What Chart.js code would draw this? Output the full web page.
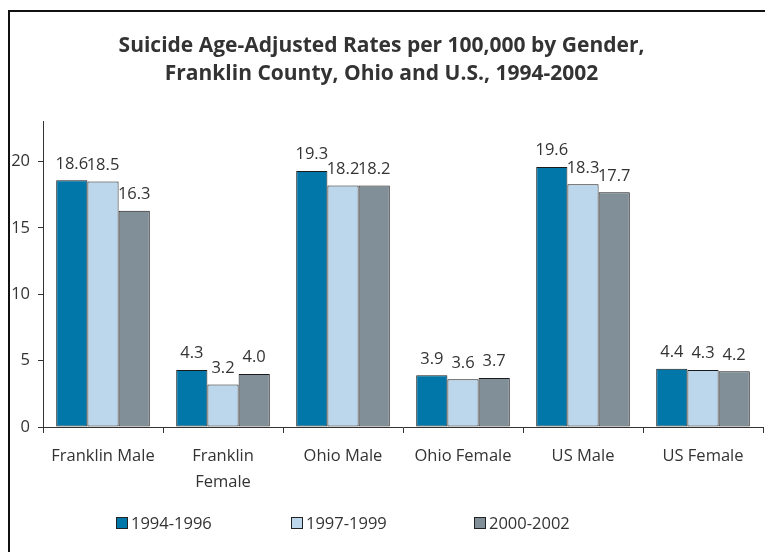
<!DOCTYPE html>
<html>
<head>
<meta charset="utf-8">
<script src="https://cdn.jsdelivr.net/npm/chart.js@4"></script>
<style>
  html, body { margin: 0; padding: 0; background: #fff; overflow: hidden; }
  #frame { position: absolute; left: 8px; top: 10px; width: 800px; height: 600px; border: 2px solid #111; }
  #wrap { position: absolute; left: 0; top: 0; width: 765px; height: 552px; }
  #legend { position: absolute; top: 511px; left: 0; width: 765px; height: 22px; font: 16.5px "Open Sans", sans-serif; color: #333; }
  .item { position: absolute; display: flex; align-items: center; }
  .box { width: 12px; height: 12px; border: 1px solid #222; margin-right: 3px; box-sizing: border-box; }
</style>
</head>
<body>
<div id="frame"></div>
<div id="wrap"><canvas id="chart" width="765" height="552"></canvas></div>
<div id="legend"></div>
<script>
// categories and series
const categories = ['Franklin Male', ['Franklin', 'Female'], 'Ohio Male', 'Ohio Female', 'US Male', 'US Female'];
const seriesNames = ['1994-1996', '1997-1999', '2000-2002'];
const rates9496 = [18.6, 4.3, 19.3, 3.9, 19.6, 4.4];
const rates9799 = [18.5, 3.2, 18.2, 3.6, 18.3, 4.3];
const rates0002 = [16.3, 4.0, 18.2, 3.7, 17.7, 4.2];
const yTicks = [0, 5, 10, 15, 20];
const colors = ['#0077a8', '#bcd7ec', '#818f98'];

const FONT = '"Open Sans", sans-serif';
const TEXT = '#333';

// value labels above bars
const valueLabels = {
    id: 'valueLabels',
    afterDatasetsDraw(chart) {
        const c = chart.ctx;
        c.save();
        c.font = '16.5px ' + FONT;
        c.fillStyle = TEXT;
        c.textAlign = 'center';
        c.textBaseline = 'bottom';
        chart.data.datasets.forEach((ds, i) => {
            chart.getDatasetMeta(i).data.forEach((bar, j) => {
                c.fillText(ds.data[j].toFixed(1), bar.x, bar.y - 8);
            });
        });
        c.restore();
    }
};

const allSeries = [rates9496, rates9799, rates0002];

new Chart(document.getElementById('chart'), {
    type: 'bar',
    data: {
        labels: categories,
        datasets: allSeries.map((d, i) => ({
            label: seriesNames[i],
            data: d,
            backgroundColor: colors[i],
            borderColor: '#1a1a1a',
            borderWidth: 1,
            borderSkipped: false,
            categoryPercentage: 0.78,
            barPercentage: 1,
        })),
    },
    options: {
        responsive: false,
        animation: false,
        layout: { padding: { left: 0, right: 2, top: 0, bottom: 45 } },
        plugins: {
            legend: { display: false },
            tooltip: { enabled: false },
            title: {
                display: true,
                text: ['Suicide Age-Adjusted Rates per 100,000 by Gender,', 'Franklin County, Ohio and U.S., 1994-2002'],
                color: TEXT,
                font: { family: FONT, size: 21, weight: 'bold', lineHeight: 1.33 },
                padding: { top: 32, bottom: 34 },
            },
        },
        scales: {
            x: {
                grid: { drawOnChartArea: false, tickLength: 6, color: '#333', offset: true },
                border: { color: '#333' },
                ticks: { color: TEXT, font: { family: FONT, size: 16.5, lineHeight: 1.58 }, padding: 10, maxRotation: 0 },
                afterFit(s) { s.height = 80; },
            },
            y: {
                min: 0,
                max: 23,
                afterBuildTicks(s) { s.ticks = yTicks.map(v => ({ value: v })); },
                grid: { drawOnChartArea: false, tickLength: 5, color: '#333' },
                border: { color: '#333' },
                ticks: { color: TEXT, font: { family: FONT, size: 16.5 }, padding: 8 },
                afterFit(s) { s.width = 43; },
            },
        },
    },
    plugins: [valueLabels],
});

// legend
const legendX = [116, 291, 474];
const legend = document.getElementById('legend');
seriesNames.forEach((name, i) => {
    const item = document.createElement('div');
    item.className = 'item';
    item.style.left = legendX[i] + 'px';
    const box = document.createElement('span');
    box.className = 'box';
    box.style.background = colors[i];
    const txt = document.createElement('span');
    txt.textContent = name;
    item.appendChild(box);
    item.appendChild(txt);
    legend.appendChild(item);
});
</script>
</body>
</html>
